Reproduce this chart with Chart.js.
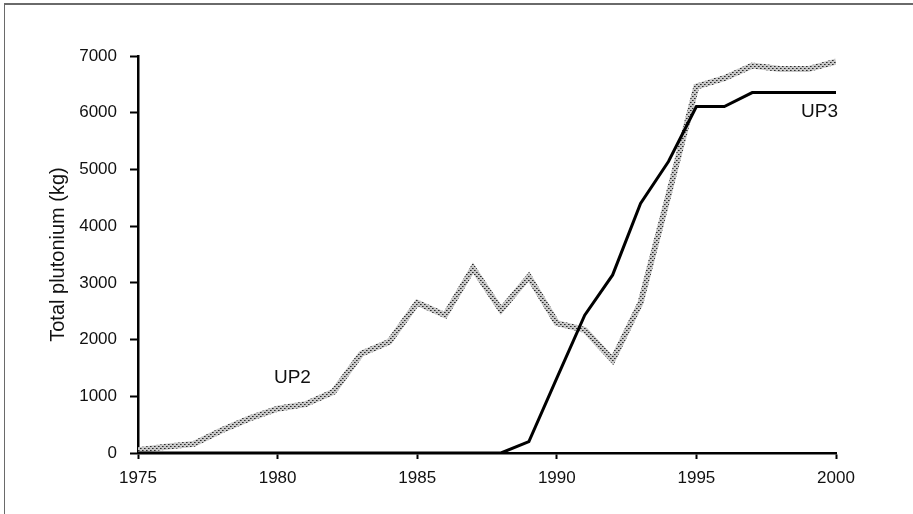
<!DOCTYPE html>
<html>
<head>
<meta charset="utf-8">
<script src="https://cdn.jsdelivr.net/npm/chart.js@4/dist/chart.umd.min.js"></script>
<style>
  html, body { margin: 0; padding: 0; background: #fff; }
  #wrap { position: relative; width: 913px; height: 514px; }
  #frame { position: absolute; left: 4px; top: 3px; right: 0; bottom: 0;
           border-top: 2px solid #6a6a6a; border-left: 1.5px solid #6a6a6a; pointer-events: none; }
  canvas { position: absolute; left: 0; top: 0; }
</style>
</head>
<body>
<div id="wrap">
  <canvas id="c" width="913" height="514"></canvas>
  <div id="frame"></div>
</div>
<script>
// ---- data ----
const years = [1975,1976,1977,1978,1979,1980,1981,1982,1983,1984,1985,1986,1987,1988,1989,1990,1991,1992,1993,1994,1995,1996,1997,1998,1999,2000];
const up2 = [50,110,160,400,610,780,860,1080,1750,1960,2650,2430,3260,2520,3110,2290,2170,1640,2650,4550,6460,6610,6830,6770,6770,6900];
const up3 = [0,0,0,0,0,0,0,0,0,0,0,0,0,0,200,1320,2430,3140,4400,5140,6110,6110,6355,6355,6355,6355];
const seriesNames = ['UP2','UP3'];
const yTicks = [0,1000,2000,3000,4000,5000,6000,7000];
const xTicks = [1975,1980,1985,1990,1995,2000];
const yTitle = 'Total plutonium (kg)';
// series label anchors (data units)
const labelAnchors = [{text:'UP2', x:1980.53, y:1320}, {text:'UP3', x:1999.41, y:6020}];

const FONT = '"Liberation Sans", Arial, Helvetica, sans-serif';

// halftone pattern for UP2
function makePattern() {
  const p = document.createElement('canvas');
  p.width = 4; p.height = 4;
  const g = p.getContext('2d');
  g.fillStyle = '#c8c8c8'; g.fillRect(0,0,4,4);
  g.fillStyle = '#2a2a2a'; g.fillRect(0,0,1,1); g.fillRect(2,2,1,1);
  g.fillStyle = '#6a6a6a'; g.fillRect(1,0,1,1); g.fillRect(3,2,1,1);
  return document.getElementById('c').getContext('2d').createPattern(p, 'repeat');
}

const toPts = arr => years.map((y,i) => ({x:y, y:arr[i]}));

const labelPlugin = {
  id: 'seriesLabels',
  afterDatasetsDraw(chart) {
    const ctx = chart.ctx, xs = chart.scales.x, ys = chart.scales.y;
    ctx.save();
    ctx.font = '19px ' + FONT;
    ctx.fillStyle = '#111';
    ctx.textAlign = 'center';
    ctx.textBaseline = 'middle';
    labelAnchors.forEach(l => ctx.fillText(l.text, xs.getPixelForValue(l.x), ys.getPixelForValue(l.y)));
    ctx.restore();
  }
};

new Chart(document.getElementById('c'), {
  type: 'line',
  data: {
    datasets: [
      { label: seriesNames[1], data: toPts(up3), borderColor: '#000', borderWidth: 3,
        pointRadius: 0, tension: 0, fill: false, order: 0, borderJoinStyle: 'miter' },
      { label: seriesNames[0], data: toPts(up2), borderColor: makePattern(), borderWidth: 6,
        pointRadius: 0, tension: 0, fill: false, order: 1 }
    ]
  },
  options: {
    responsive: false,
    animation: false,
    devicePixelRatio: 1,
    layout: { padding: { left: 0, top: 56, right: 77, bottom: 0 } },
    plugins: { legend: { display: false }, tooltip: { enabled: false } },
    scales: {
      x: {
        type: 'linear', min: 1975, max: 2000,
        afterBuildTicks: s => { s.ticks = xTicks.map(v => ({value: v})); },
        afterFit: s => { s.height = 61; },
        border: { display: true, color: '#000', width: 2.5 },
        grid: { drawOnChartArea: false, drawTicks: true, tickLength: 6, tickColor: '#000', tickWidth: 2 },
        ticks: { color: '#111', font: { family: FONT, size: 17 }, padding: 9, maxRotation: 0,
                 callback: v => String(v) }
      },
      y: {
        type: 'linear', min: 0, max: 7000,
        afterBuildTicks: s => { s.ticks = yTicks.map(v => ({value: v})); },
        afterFit: s => { s.width = 138; },
        border: { display: true, color: '#000', width: 2.5 },
        grid: { drawOnChartArea: false, drawTicks: true, tickLength: 8, tickColor: '#000', tickWidth: 2 },
        ticks: { color: '#111', font: { family: FONT, size: 17 }, padding: 13,
                 callback: v => String(v) },
        title: { display: true, text: yTitle, color: '#111', font: { family: FONT, size: 20 },
                 padding: { top: 46, bottom: 0 } }
      }
    }
  },
  plugins: [labelPlugin]
});
</script>
</body>
</html>
